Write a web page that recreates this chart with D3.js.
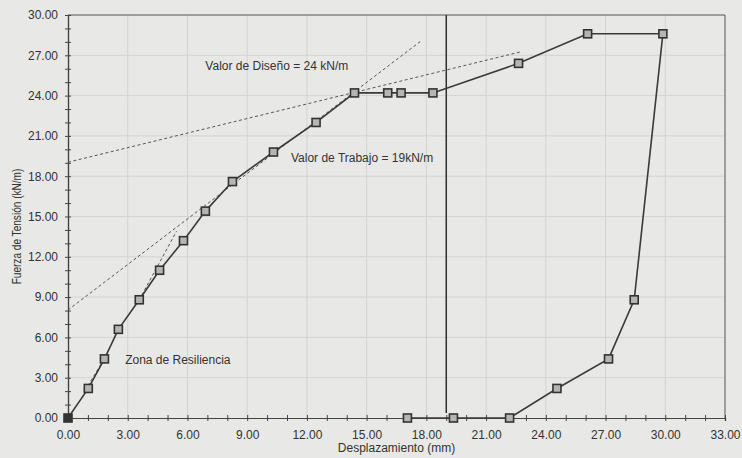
<!DOCTYPE html>
<html>
<head>
<meta charset="utf-8">
<script src="https://cdn.jsdelivr.net/npm/d3@7"></script>
<style>
  html, body { margin: 0; padding: 0; background: #e8e8e6; }
  svg { display: block; font-family: "Liberation Sans", Arial, sans-serif; }
</style>
</head>
<body>
<svg id="chart" width="742" height="458"></svg>
<script>
// Load path: displacement (mm) and tension (kN/m)
const loadX = [0, 1.02, 1.83, 2.53, 3.58, 4.6, 5.8, 6.9, 8.26, 10.32, 12.46, 14.39, 16.06, 16.73, 18.33, 22.63, 26.1, 29.88];
const loadY = [0, 2.2, 4.4, 6.6, 8.8, 11.0, 13.2, 15.4, 17.6, 19.8, 22.0, 24.2, 24.2, 24.2, 24.2, 26.4, 28.6, 28.6];

// Unload path back to zero load
const unloadX = [29.88, 28.44, 27.15, 24.56, 22.18, 19.36, 17.05];
const unloadY = [28.6, 8.8, 4.4, 2.2, 0, 0, 0];

// Reference (dashed) lines: [x1, y1, x2, y2]
const designLine = [0, 19.04, 22.8, 27.28];
const initialLine = [0, 8.04, 17.69, 28.02];
const steepLine = [3.58, 8.8, 5.45, 13.9];
const startLine = [1.0, 2.4, 1.9, 4.6];

// Service-limit displacement marker
const limitX = 19;

const xTicks = [0, 3, 6, 9, 12, 15, 18, 21, 24, 27, 30, 33];
const yTicks = [0, 3, 6, 9, 12, 15, 18, 21, 24, 27, 30];

const labels = [
  { text: "Valor de Diseño = 24 kN/m", x: 6.9, y: 25.9 },
  { text: "Valor de Trabajo = 19kN/m", x: 11.2, y: 19.05 },
  { text: "Zona de Resiliencia", x: 2.87, y: 4.0 }
];

const svg = d3.select("#chart");
const m = { left: 68, top: 15, right: 17, bottom: 40 };
const W = 742, H = 458;
const x = d3.scaleLinear().domain([0, 33]).range([m.left, W - m.right]);
const y = d3.scaleLinear().domain([0, 30]).range([H - m.bottom, m.top]);

const ink = "#333";

// grid
const grid = svg.append("g");
grid.selectAll(".gx").data(xTicks.slice(1, -1)).join("line")
  .attr("x1", d => x(d)).attr("x2", d => x(d))
  .attr("y1", y(0)).attr("y2", y(30))
  .attr("stroke", "#d3d3d1").attr("stroke-width", 1);
grid.selectAll(".gy").data(yTicks.slice(1, -1)).join("line")
  .attr("y1", d => y(d)).attr("y2", d => y(d))
  .attr("x1", x(0)).attr("x2", x(33))
  .attr("stroke", "#d3d3d1").attr("stroke-width", 1);

// frame (top + right)
svg.append("path")
  .attr("d", `M${x(0)},${y(30)}H${x(33)}V${y(0)}`)
  .attr("fill", "none").attr("stroke", "#555").attr("stroke-width", 1);

// axes
const fmt = d3.format(".2f");
const xAxis = svg.append("g").attr("transform", `translate(0,${y(0)})`)
  .call(d3.axisBottom(x).tickValues(xTicks).tickFormat(fmt).tickSize(3).tickPadding(9));
const xMinor = svg.append("g").attr("transform", `translate(0,${y(0)})`)
  .call(d3.axisBottom(x).tickValues(d3.range(0, 34).filter(v => v % 3 !== 0)).tickFormat("").tickSize(3));
const yAxis = svg.append("g").attr("transform", `translate(${x(0)},0)`)
  .call(d3.axisLeft(y).tickValues(yTicks).tickFormat(fmt).tickSize(3).tickPadding(7));
const yMinor = svg.append("g").attr("transform", `translate(${x(0)},0)`)
  .call(d3.axisLeft(y).tickValues(d3.range(0, 31).filter(v => v % 3 !== 0)).tickFormat("").tickSize(3));

[xAxis, xMinor].forEach(g => g.selectAll(".tick line").attr("y1", -3).attr("y2", 3));
[yAxis, yMinor].forEach(g => g.selectAll(".tick line").attr("x1", 3).attr("x2", -3));
[xAxis, xMinor, yAxis, yMinor].forEach(g => {
  g.select(".domain").attr("stroke", "#444").attr("stroke-width", 1.2);
  g.selectAll(".tick line").attr("stroke", "#444");
  g.selectAll("text").attr("fill", ink).attr("font-size", 12)
    .attr("font-family", "'Liberation Sans', Arial, sans-serif");
});

// axis titles
svg.append("text").attr("x", x(16.5)).attr("y", 452)
  .attr("text-anchor", "middle").attr("font-size", 12).attr("fill", ink)
  .text("Desplazamiento (mm)");
svg.append("text")
  .attr("transform", `translate(21,226.5) rotate(-90) scale(0.84,1)`)
  .attr("text-anchor", "middle").attr("font-size", 12).attr("fill", ink)
  .text("Fuerza de Tensión (kN/m)");

// dashed reference lines
[designLine, initialLine, steepLine, startLine].forEach(l => {
  svg.append("line")
    .attr("x1", x(l[0])).attr("y1", y(l[1]))
    .attr("x2", x(l[2])).attr("y2", y(l[3]))
    .attr("stroke", "#555").attr("stroke-width", 1)
    .attr("stroke-dasharray", "3,2.5");
});

// service limit vertical
svg.append("line")
  .attr("x1", x(limitX)).attr("x2", x(limitX))
  .attr("y1", y(30)).attr("y2", y(0) - 5)
  .attr("stroke", "#2e2e2e").attr("stroke-width", 1.5);

// curves
const line = d3.line().x(d => x(d[0])).y(d => y(d[1]));
const loadPts = loadX.map((v, i) => [v, loadY[i]]);
const unloadPts = unloadX.map((v, i) => [v, unloadY[i]]);
[loadPts, unloadPts].forEach(pts => {
  svg.append("path").datum(pts).attr("d", line)
    .attr("fill", "none").attr("stroke", "#3a3a3a").attr("stroke-width", 1.6);
});

// square markers
const allPts = loadPts.concat(unloadPts.slice(1));
svg.selectAll(".mk").data(allPts).join("rect")
  .attr("x", d => x(d[0]) - 4).attr("y", d => y(d[1]) - 4)
  .attr("width", 8).attr("height", 8)
  .attr("fill", (d, i) => i === 0 ? "#333" : "#b5b5b3")
  .attr("stroke", "#333").attr("stroke-width", 1.6);

// annotations
labels.forEach(l => {
  svg.append("text").attr("x", x(l.x)).attr("y", y(l.y))
    .attr("font-size", 12).attr("fill", ink).text(l.text);
});
</script>
</body>
</html>
